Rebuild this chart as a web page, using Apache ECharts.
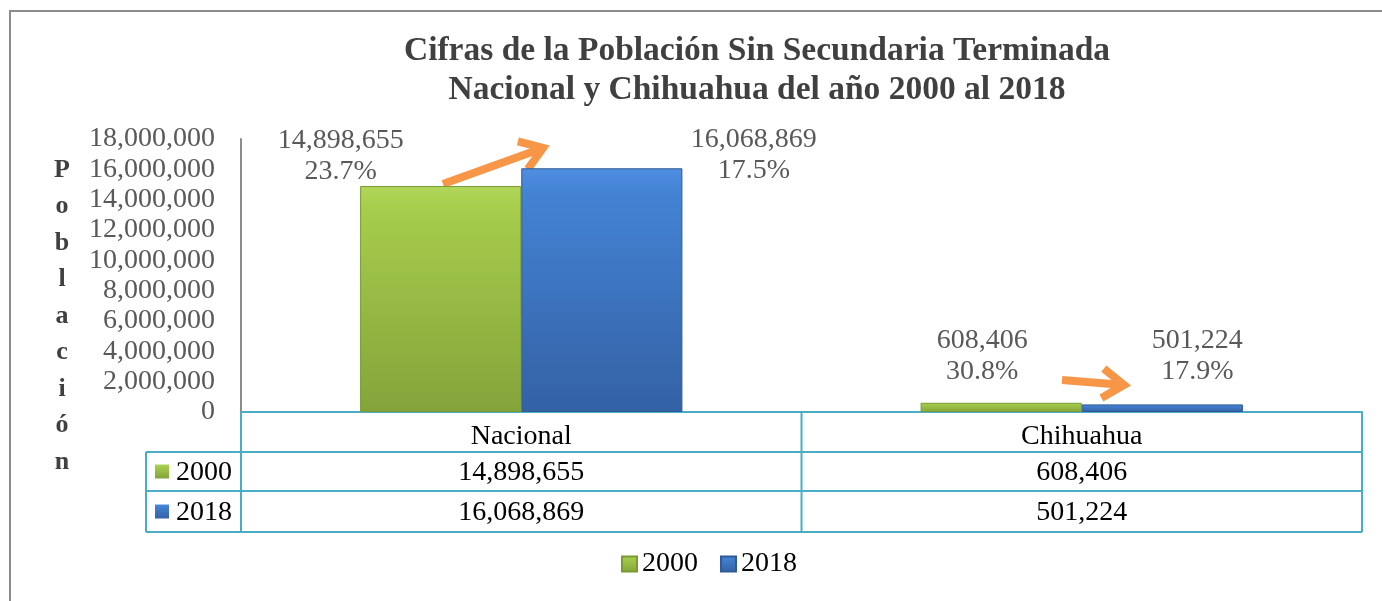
<!DOCTYPE html>
<html>
<head>
<meta charset="utf-8">
<script src="https://cdn.jsdelivr.net/npm/echarts@6/dist/echarts.min.js"></script>
<style>
  html, body { margin: 0; padding: 0; background: #fff; }
  #chart { width: 1382px; height: 601px; }
</style>
</head>
<body>
<div id="chart"></div>
<script>
// data
const categories = ["Nacional", "Chihuahua"];
const years = ["2000", "2018"];
const values2000 = [14898655, 608406];
const values2018 = [16068869, 501224];
const pct2000 = ["23.7%", "30.8%"];
const pct2018 = ["17.5%", "17.9%"];
const yTicks = [0, 2000000, 4000000, 6000000, 8000000, 10000000, 12000000, 14000000, 16000000, 18000000];

// layout (pixels)
const gridL = 241, gridR = 1362, gridT = 139, gridB = 412;
const rowH = [40, 39, 41];
const labelCol = 146;
const serif = "Liberation Serif";
const teal = "#4bacc6";
const fmt = v => v.toLocaleString("en-US");

// per-label offsets [dx, dy] relative to bar top
const offs2000 = [[-100, 3], [-19, -14]];
const offs2018 = [[152, 20], [35, -15]];

const greenGrad = new echarts.graphic.LinearGradient(0, 0, 0, 1, [
  { offset: 0, color: "#b3d65a" },
  { offset: 0.1, color: "#a6cd4c" },
  { offset: 1, color: "#84a43a" }
]);
const blueGrad = new echarts.graphic.LinearGradient(0, 0, 0, 1, [
  { offset: 0, color: "#4f8ee0" },
  { offset: 0.1, color: "#4383d4" },
  { offset: 1, color: "#3461a4" }
]);

function seriesData(vals, pcts, offs) {
  return vals.map((v, i) => ({
    value: v,
    label: { offset: offs[i] },
    pct: pcts[i]
  }));
}

const myChart = echarts.init(document.getElementById("chart"));

// table graphics
const g = [];
const rows = [gridB, gridB + rowH[0], gridB + rowH[0] + rowH[1], gridB + rowH[0] + rowH[1] + rowH[2]];
const colMid = (gridL + gridR) / 2;
const lineStyle = { stroke: teal, lineWidth: 2 };
// horizontal lines
g.push({ type: "line", shape: { x1: gridL, y1: rows[0], x2: gridR, y2: rows[0] }, style: lineStyle });
for (let r = 1; r < 4; r++) {
  g.push({ type: "line", shape: { x1: labelCol, y1: rows[r], x2: gridR, y2: rows[r] }, style: lineStyle });
}
// vertical lines
g.push({ type: "line", shape: { x1: gridL, y1: rows[0], x2: gridL, y2: rows[3] }, style: lineStyle });
g.push({ type: "line", shape: { x1: colMid, y1: rows[0], x2: colMid, y2: rows[3] }, style: lineStyle });
g.push({ type: "line", shape: { x1: gridR, y1: rows[0], x2: gridR, y2: rows[3] }, style: lineStyle });
g.push({ type: "line", shape: { x1: labelCol, y1: rows[1], x2: labelCol, y2: rows[3] }, style: lineStyle });

const tableVals = [values2000, values2018];
const grads = [greenGrad, blueGrad];
for (let r = 0; r < 2; r++) {
  const cy = (rows[r + 1] + rows[r + 2]) / 2;
  g.push({ type: "rect", shape: { x: 155, y: cy - 7, width: 14, height: 14 }, style: { fill: grads[r] } });
  g.push({ type: "text", style: { text: years[r], x: 176, y: cy + 1, font: "28px " + serif, fill: "#000", textVerticalAlign: "middle" } });
  for (let c = 0; c < 2; c++) {
    const cx = gridL + (gridR - gridL) * (c + 0.5) / 2;
    g.push({ type: "text", style: { text: fmt(tableVals[r][c]), x: cx, y: cy + 1, font: "28px " + serif, fill: "#000", textAlign: "center", textVerticalAlign: "middle" } });
  }
}

// y axis name (stacked letters)
g.push({
  type: "text",
  style: {
    text: "Población".split("").join("\n"),
    x: 62, y: 152,
    font: "bold 26px " + serif,
    lineHeight: 36.5,
    fill: "#404040",
    textAlign: "center"
  }
});

// outer frame
g.push({ type: "rect", shape: { x: 10, y: 11, width: 1420, height: 640 }, style: { fill: null, stroke: "#8c8c8c", lineWidth: 2 } });

// orange arrows
function arrow(x1, y1, x2, y2) {
  const a = Math.atan2(y2 - y1, x2 - x1);
  const L = 26, s = 0.6;
  const p1 = [x2 - L * Math.cos(a - s), y2 - L * Math.sin(a - s)];
  const p2 = [x2 - L * Math.cos(a + s), y2 - L * Math.sin(a + s)];
  const st = { stroke: "#f79646", lineWidth: 8, lineCap: "butt", lineJoin: "miter", fill: null };
  g.push({ type: "line", shape: { x1: x1, y1: y1, x2: x2 - 3 * Math.cos(a), y2: y2 - 3 * Math.sin(a) }, style: st });
  g.push({ type: "polyline", shape: { points: [p1, [x2, y2], p2] }, style: st });
}
arrow(443, 184, 543, 148);
arrow(1062, 380, 1124, 385);

const option = {
  animation: false,
  title: {
    text: "Cifras de la Población Sin Secundaria Terminada\nNacional y Chihuahua del año 2000 al 2018",
    left: 752,
    top: 27,
    textAlign: "center",
    textStyle: { fontFamily: serif, fontWeight: "bold", fontSize: 33.5, lineHeight: 39, color: "#404040" }
  },
  legend: {
    data: years,
    bottom: 18,
    left: 616,
    itemWidth: 15,
    itemHeight: 15,
    itemGap: 22,
    icon: "rect",
    textStyle: { fontFamily: serif, fontSize: 28, color: "#000" }
  },
  grid: { left: gridL, right: 1382 - gridR, top: gridT, bottom: 601 - gridB },
  xAxis: {
    type: "category",
    data: categories,
    axisLine: { show: true, lineStyle: { color: teal, width: 2 } },
    axisTick: { show: false },
    axisLabel: { margin: 11, fontFamily: serif, fontSize: 28, color: "#000" }
  },
  yAxis: {
    type: "value",
    min: 0,
    max: 18000000,
    interval: 2000000,
    axisLine: { show: true, lineStyle: { color: "#8c8c8c", width: 2 } },
    axisTick: { show: false },
    splitLine: { show: false },
    axisLabel: {
      margin: 26,
      fontFamily: serif,
      fontSize: 28,
      color: "#595959",
      formatter: v => yTicks.includes(v) ? fmt(v) : ""
    }
  },
  series: [
    {
      name: years[0],
      type: "bar",
      barGap: "0%",
      barCategoryGap: "42.5%",
      data: seriesData(values2000, pct2000, offs2000),
      itemStyle: { color: greenGrad, borderColor: "#7a9a34", borderWidth: 1 },
      label: {
        show: true,
        position: "top",
        distance: 2,
        fontFamily: serif,
        fontSize: 28,
        lineHeight: 31,
        color: "#595959",
        formatter: p => fmt(p.value) + "\n" + p.data.pct
      }
    },
    {
      name: years[1],
      type: "bar",
      data: seriesData(values2018, pct2018, offs2018),
      itemStyle: { color: blueGrad, borderColor: "#2f5a96", borderWidth: 1 },
      label: {
        show: true,
        position: "top",
        distance: 2,
        fontFamily: serif,
        fontSize: 28,
        lineHeight: 31,
        color: "#595959",
        formatter: p => fmt(p.value) + "\n" + p.data.pct
      }
    }
  ],
  graphic: g
};
myChart.setOption(option);
window.addEventListener("resize", function() {
  myChart.resize();
});
</script>
</body>
</html>
